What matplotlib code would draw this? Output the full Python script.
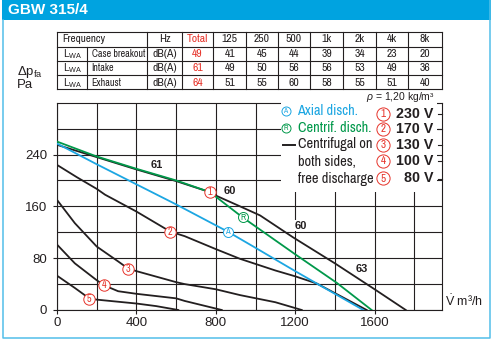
import matplotlib
matplotlib.use('Agg')
import matplotlib.pyplot as plt
from matplotlib import font_manager
from matplotlib.font_manager import FontProperties
from matplotlib.patches import Rectangle

# fan curve data, flow in m3/h, pressure in Pa
flow_axial = [0, 200, 400, 600, 860, 1000, 1200, 1308, 1543]
dp_axial = [257, 225, 194, 163, 121, 96, 60, 41, 0]

flow_centrif = [0, 200, 400, 600, 770, 935, 1200, 1409, 1585]
dp_centrif = [260, 237, 218, 200, 182, 143, 86, 42, 0]

flow_230 = [0, 200, 400, 600, 770, 805, 922, 1023, 1190, 1400, 1600, 1757]
dp_230 = [255, 236, 217, 199, 182, 176, 160, 146, 112, 72, 32, 0]
flow_170 = [0, 100, 200, 242, 400, 571, 643, 800, 922, 1100, 1200, 1308, 1560]
dp_170 = [224, 205, 187, 178, 152, 121, 114, 94, 79, 61, 52, 41, 0]
flow_130 = [0, 90, 200, 308, 358, 400, 600, 643, 800, 922, 1100, 1233]
dp_130 = [170, 134, 98, 75, 64, 60, 43, 40, 32, 23, 12, 0]
flow_100 = [0, 90, 200, 238, 308, 400, 600, 643, 830]
dp_100 = [101, 72, 46, 38, 29, 25, 18, 14, 0]
flow_80 = [0, 90, 162, 200, 400, 500, 611]
dp_80 = [53, 34, 18, 16, 10, 6, 0]

# curve markers (number, flow, pressure)
speed_marks = [('1', 771, 182), ('2', 571, 121), ('3', 358, 64), ('4', 238, 38), ('5', 162, 17.5)]
disch_marks = [('A', 860, 121), ('R', 935, 143)]
db_labels = [('61', 504, 224), ('60', 872, 183), ('60', 1228, 130), ('63', 1535, 63)]

voltages = ['230 V', '170 V', '130 V', '100 V', '80 V']

# sound table
freq_labels = ['125', '250', '500', '1k', '2k', '4k', '8k']
row_names = ['Case breakout', 'Intake', 'Exhaust']
total_db = [49, 61, 64]
band_db = [[41, 45, 44, 39, 34, 23, 20],
           [49, 50, 56, 56, 53, 49, 36],
           [51, 55, 60, 58, 55, 51, 40]]

BLUE = '#1ca6e2'
GREEN = '#00984a'
RED = '#e6332a'
INK = '#231f20'
BAR = '#00a3e0'


def find_narrow():
    # pick a narrow sans if one is around, else a smaller regular face
    names = {f.name for f in font_manager.fontManager.ttflist}
    for fam, scale in [('Liberation Sans Narrow', 1.0), ('Archivo Narrow', 1.0),
                       ('PT Sans Narrow', 1.0), ('Roboto Condensed', 0.96)]:
        if fam in names:
            return FontProperties(family=fam), scale
    return FontProperties(family='Liberation Sans'), 0.8


NARROW, NS = find_narrow()

plt.rcParams['font.family'] = ['Liberation Sans', 'DejaVu Sans']
plt.rcParams['mathtext.fontset'] = 'custom'
plt.rcParams['mathtext.rm'] = 'Liberation Sans'
plt.rcParams['mathtext.it'] = 'Liberation Sans:italic'

fig = plt.figure(figsize=(4.94, 3.42), dpi=100)
ax = fig.add_axes([57 / 494, 1 - 310 / 342, (441.7 - 57) / 494, (310 - 102.7) / 342])

ax.plot(flow_axial, dp_axial, color=BLUE, lw=1.3, zorder=4)
ax.plot(flow_centrif, dp_centrif, color=GREEN, lw=1.3, zorder=4)
for fx, fy in [(flow_230, dp_230), (flow_170, dp_170), (flow_130, dp_130),
               (flow_100, dp_100), (flow_80, dp_80)]:
    ax.plot(fx, fy, color=INK, lw=1.3, zorder=3)


def circled(a, x, y, s, color, size, fs, transform=None):
    tr = transform if transform is not None else a.transData
    a.plot([x], [y], 'o', ms=size, mfc='white', mec=color, mew=0.7,
           transform=tr, zorder=6, clip_on=False)
    a.text(x, y + 0.2 if transform is not None else y, s, color=color,
           fontproperties=NARROW, fontsize=fs, ha='center', va='center',
           transform=tr, zorder=7)


for s, x, y in speed_marks:
    circled(ax, x, y, s, RED, 8.2, 7.2)
circled(ax, disch_marks[0][1], disch_marks[0][2], 'A', BLUE, 7.2, 6.2)
circled(ax, disch_marks[1][1], disch_marks[1][2], 'R', GREEN, 7.2, 6.2)
for s, x, y in db_labels:
    ax.text(x, y, s, fontsize=8, fontweight='bold', color=INK, ha='center', va='center',
            zorder=5, bbox=dict(fc='white', ec='none', pad=0.3))

ax.set_xlim(0, 1938)
ax.set_ylim(0, 320)
ax.set_xticks([0, 400, 800, 1200, 1600])
ax.set_xticks(range(200, 1900, 400), minor=True)
ax.set_yticks([0, 80, 160, 240])
ax.set_yticks([40, 120, 200, 280], minor=True)
ax.grid(True, which='both', color=INK, lw=0.8)
ax.set_axisbelow(True)
ax.tick_params(which='major', direction='out', length=3, width=0.8, color=INK,
               labelsize=9.5, labelcolor=INK)
ax.tick_params(axis='x', which='major', pad=2)
ax.tick_params(axis='y', which='major', pad=4)
ax.tick_params(which='minor', length=0)
for sp in ax.spines.values():
    sp.set_color(INK)
    sp.set_linewidth(0.8)

# overlay in pixel units for frame, table and legend
ov = fig.add_axes([0, 0, 1, 1], zorder=5)
ov.set_xlim(0, 494)
ov.set_ylim(342, 0)
ov.axis('off')

ov.add_patch(Rectangle((1.5, 0), 489, 20, fc=BAR, ec='none'))
ov.plot([2.5, 2.5, 490, 490], [20, 338.3, 338.3, 0], color='#52bfe9', lw=1.1)
ov.text(8, 10.5, 'GBW 315/4', color='white', fontsize=11, fontweight='bold', va='center')

# white panel behind the legend
ov.add_patch(Rectangle((281, 97), 156, 95, fc='white', ec='none', zorder=1))
for yy in [114, 129.3, 145, 161, 179.3]:
    ov.plot([437.5, 441.7], [yy, yy], color=INK, lw=0.8, zorder=2)

# table grid
rows = [31.7, 46.7, 61, 75.3, 89.3]
cols = [56.7, 86.7, 147.3, 181.7, 213.3, 246, 278, 310, 343.3, 376, 408.3, 441.7]
for yy in rows:
    ov.plot([cols[0], cols[-1]], [yy, yy], color=INK, lw=0.8)
for i, xx in enumerate(cols):
    y0 = rows[1] if i == 1 else rows[0]
    ov.plot([xx, xx], [y0, rows[-1]], color=INK, lw=0.8)

tkw = dict(fontproperties=NARROW, fontsize=8.4 * NS, color=INK, va='center')
mid = lambda i: (cols[i] + cols[i + 1]) / 2
rmid = lambda j: (rows[j] + rows[j + 1]) / 2 + 0.3
ov.text(62.5, rmid(0), 'Frequency', **{**tkw, 'fontsize': 8 * NS})
ov.text(mid(2), rmid(0), 'Hz', ha='center', **tkw)
ov.text(mid(3), rmid(0), 'Total', ha='center', **{**tkw, 'color': RED})
for k, f in enumerate(freq_labels):
    ov.text(mid(4 + k), rmid(0), f, ha='center', **tkw)
for r, name in enumerate(row_names):
    ov.text(62.5, rmid(r + 1), r'$\mathrm{L_{WA}}$', color=INK, va='center', fontsize=7.5)
    ov.text(91.5, rmid(r + 1), name, **{**tkw, 'fontsize': 7.2 * NS})
    ov.text(mid(2), rmid(r + 1), 'dB(A)', ha='center', **tkw)
    ov.text(mid(3), rmid(r + 1), str(total_db[r]), ha='center', **{**tkw, 'color': RED})
    for k, v in enumerate(band_db[r]):
        ov.text(mid(4 + k), rmid(r + 1), str(v), ha='center', **tkw)

ov.text(435, 96.5, r'$\mathit{\rho}$ = 1,20 kg/m³', fontsize=7.5, color=INK,
        ha='right', va='center', zorder=3)

# axis titles
ov.text(17, 72, r'$\Delta\mathrm{p_{fa}}$', fontsize=9.5, color=INK, va='center', zorder=3)
ov.text(17, 84.5, 'Pa', fontsize=9.5, color=INK, va='center', zorder=3)
ov.text(445, 301.5, r'$\dot{\mathrm{V}}$ m³/h', fontsize=9, color=INK, va='center', zorder=3)

# legend
lkw = dict(fontproperties=NARROW, fontsize=10.3 * NS, va='center', zorder=3)
circled(ov, 285.5, 110.7, 'A', BLUE, 6.5, 5.5, transform=ov.transData)
ov.text(297.5, 110.7, 'Axial disch.', color=BLUE, **lkw)
circled(ov, 285.5, 128.3, 'R', GREEN, 6.5, 5.5, transform=ov.transData)
ov.text(297.5, 128.3, 'Centrif. disch.', color=GREEN, **lkw)
ov.plot([282.7, 295], [144.5, 144.5], color=INK, lw=1.4, zorder=3)
ov.text(297.5, 144.3, 'Centrifugal on', color=INK, **lkw)
ov.text(297.5, 161.7, 'both sides,', color=INK, **lkw)
ov.text(297.5, 179, 'free discharge', color=INK, **lkw)
for k, vtxt in enumerate(voltages):
    yy = [114, 129.3, 145, 161, 178.3][k]
    circled(ov, 383.3, yy, str(k + 1), RED, 9.5, 8, transform=ov.transData)
    ov.text(433.5, yy, vtxt, color=INK, fontsize=10.3, fontweight='bold',
            ha='right', va='center', zorder=3)

fig.savefig('out.png', dpi=100)
